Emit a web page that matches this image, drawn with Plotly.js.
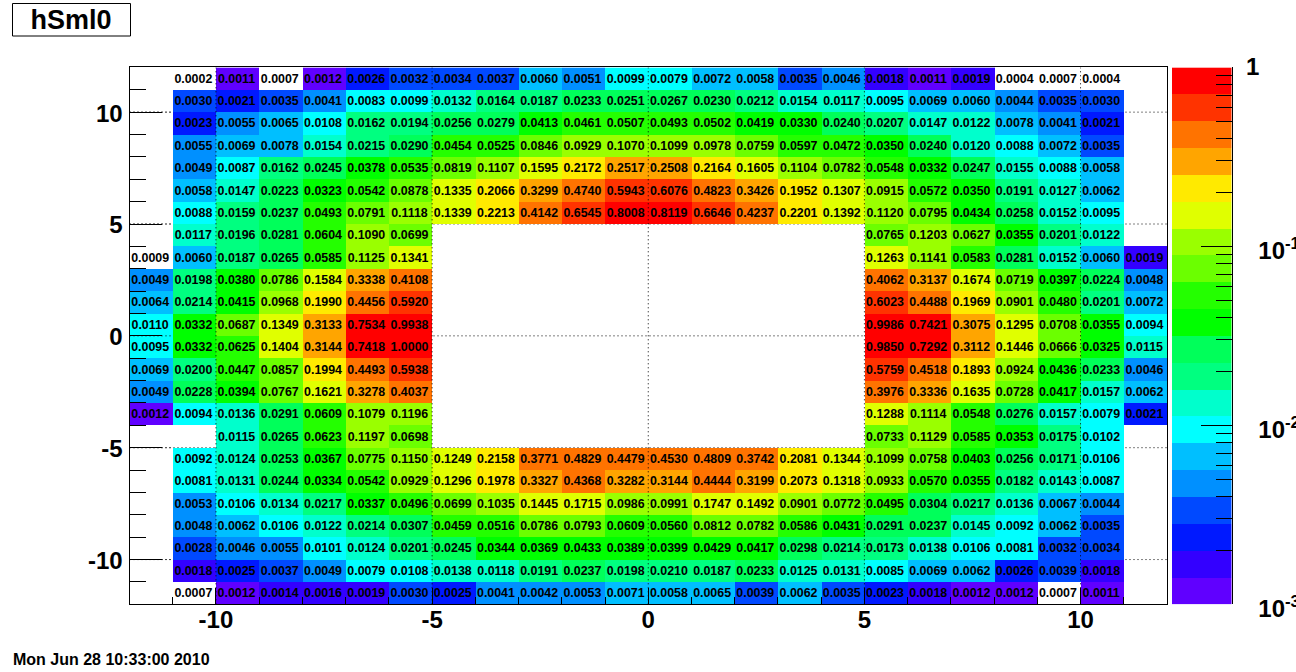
<!DOCTYPE html>
<html>
<head>
<meta charset="utf-8">
<script src="https://cdn.plot.ly/plotly-3.0.1.min.js"></script>
<style>html,body{margin:0;padding:0;background:#fff;overflow:hidden}#c{width:1296px;height:672px}</style>
</head>
<body>
<div id="c"></div>
<script>
const W = 1296, H = 672;
const binCenters = [-11.5,-10.5,-9.5,-8.5,-7.5,-6.5,-5.5,-4.5,-3.5,-2.5,-1.5,-0.5,0.5,1.5,2.5,3.5,4.5,5.5,6.5,7.5,8.5,9.5,10.5,11.5];
const rowCenters = [11.5,10.5,9.5,8.5,7.5,6.5,5.5,4.5,3.5,2.5,1.5,0.5,-0.5,-1.5,-2.5,-3.5,-4.5,-5.5,-6.5,-7.5,-8.5,-9.5,-10.5,-11.5];
const _ = null;
const rowValues = [
[_,0.0002,0.0011,0.0007,0.0012,0.0026,0.0032,0.0034,0.0037,0.0060,0.0051,0.0099,0.0079,0.0072,0.0058,0.0035,0.0046,0.0018,0.0011,0.0019,0.0004,0.0007,0.0004,_],
[_,0.0030,0.0021,0.0035,0.0041,0.0083,0.0099,0.0132,0.0164,0.0187,0.0233,0.0251,0.0267,0.0230,0.0212,0.0154,0.0117,0.0095,0.0069,0.0060,0.0044,0.0035,0.0030,_],
[_,0.0023,0.0055,0.0065,0.0108,0.0162,0.0194,0.0256,0.0279,0.0413,0.0461,0.0507,0.0493,0.0502,0.0419,0.0330,0.0240,0.0207,0.0147,0.0122,0.0078,0.0041,0.0021,_],
[_,0.0055,0.0069,0.0078,0.0154,0.0215,0.0290,0.0454,0.0525,0.0846,0.0929,0.1070,0.1099,0.0978,0.0759,0.0597,0.0472,0.0350,0.0240,0.0120,0.0088,0.0072,0.0035,_],
[_,0.0049,0.0087,0.0162,0.0245,0.0378,0.0535,0.0819,0.1107,0.1595,0.2172,0.2517,0.2508,0.2164,0.1605,0.1104,0.0782,0.0548,0.0332,0.0247,0.0155,0.0088,0.0058,_],
[_,0.0058,0.0147,0.0223,0.0323,0.0542,0.0878,0.1335,0.2066,0.3299,0.4740,0.5943,0.6076,0.4823,0.3426,0.1952,0.1307,0.0915,0.0572,0.0350,0.0191,0.0127,0.0062,_],
[_,0.0088,0.0159,0.0237,0.0493,0.0791,0.1118,0.1339,0.2213,0.4142,0.6545,0.8008,0.8119,0.6646,0.4237,0.2201,0.1392,0.1120,0.0795,0.0434,0.0258,0.0152,0.0095,_],
[_,0.0117,0.0196,0.0281,0.0604,0.1090,0.0699,_,_,_,_,_,_,_,_,_,_,0.0765,0.1203,0.0627,0.0355,0.0201,0.0122,_],
[0.0009,0.0060,0.0187,0.0265,0.0585,0.1125,0.1341,_,_,_,_,_,_,_,_,_,_,0.1263,0.1141,0.0583,0.0281,0.0152,0.0060,0.0019],
[0.0049,0.0198,0.0380,0.0786,0.1584,0.3338,0.4108,_,_,_,_,_,_,_,_,_,_,0.4062,0.3137,0.1674,0.0719,0.0397,0.0224,0.0048],
[0.0064,0.0214,0.0415,0.0968,0.1990,0.4456,0.5920,_,_,_,_,_,_,_,_,_,_,0.6023,0.4488,0.1969,0.0901,0.0480,0.0201,0.0072],
[0.0110,0.0332,0.0687,0.1349,0.3133,0.7534,0.9938,_,_,_,_,_,_,_,_,_,_,0.9986,0.7421,0.3075,0.1295,0.0708,0.0355,0.0094],
[0.0095,0.0332,0.0625,0.1404,0.3144,0.7418,1.0000,_,_,_,_,_,_,_,_,_,_,0.9850,0.7292,0.3112,0.1446,0.0666,0.0325,0.0115],
[0.0069,0.0200,0.0447,0.0857,0.1994,0.4493,0.5938,_,_,_,_,_,_,_,_,_,_,0.5759,0.4518,0.1893,0.0924,0.0436,0.0233,0.0046],
[0.0049,0.0228,0.0394,0.0767,0.1621,0.3278,0.4037,_,_,_,_,_,_,_,_,_,_,0.3976,0.3336,0.1635,0.0728,0.0417,0.0157,0.0062],
[0.0012,0.0094,0.0136,0.0291,0.0609,0.1079,0.1196,_,_,_,_,_,_,_,_,_,_,0.1288,0.1114,0.0548,0.0276,0.0157,0.0079,0.0021],
[_,_,0.0115,0.0265,0.0623,0.1197,0.0698,_,_,_,_,_,_,_,_,_,_,0.0733,0.1129,0.0585,0.0353,0.0175,0.0102,_],
[_,0.0092,0.0124,0.0253,0.0367,0.0775,0.1150,0.1249,0.2158,0.3771,0.4829,0.4479,0.4530,0.4809,0.3742,0.2081,0.1344,0.1099,0.0758,0.0403,0.0256,0.0171,0.0106,_],
[_,0.0081,0.0131,0.0244,0.0334,0.0542,0.0929,0.1296,0.1978,0.3327,0.4368,0.3282,0.3144,0.4444,0.3199,0.2073,0.1318,0.0933,0.0570,0.0355,0.0182,0.0143,0.0087,_],
[_,0.0053,0.0106,0.0134,0.0217,0.0337,0.0496,0.0699,0.1035,0.1445,0.1715,0.0986,0.0991,0.1747,0.1492,0.0901,0.0772,0.0495,0.0304,0.0217,0.0136,0.0067,0.0044,_],
[_,0.0048,0.0062,0.0106,0.0122,0.0214,0.0307,0.0459,0.0516,0.0786,0.0793,0.0609,0.0560,0.0812,0.0782,0.0586,0.0431,0.0291,0.0237,0.0145,0.0092,0.0062,0.0035,_],
[_,0.0028,0.0046,0.0055,0.0101,0.0124,0.0201,0.0245,0.0344,0.0369,0.0433,0.0389,0.0399,0.0429,0.0417,0.0298,0.0214,0.0173,0.0138,0.0106,0.0081,0.0032,0.0034,_],
[_,0.0018,0.0025,0.0037,0.0049,0.0079,0.0108,0.0138,0.0118,0.0191,0.0237,0.0198,0.0210,0.0187,0.0233,0.0125,0.0131,0.0085,0.0069,0.0062,0.0026,0.0039,0.0018,_],
[_,0.0007,0.0012,0.0014,0.0016,0.0019,0.0030,0.0025,0.0041,0.0042,0.0053,0.0071,0.0058,0.0065,0.0039,0.0062,0.0035,0.0023,0.0018,0.0012,0.0012,0.0007,0.0011,_]
];
const bandColors = ['#6000ff','#3300ff','#0019ff','#0049ff','#0090ff','#00bfff','#00ffff','#00ffcc','#00ff80','#00ff5a',
                    '#00ff00','#24ff00','#6bff00','#9aff00','#e0ff00','#ffea00','#ffa500','#ff7300','#ff3300','#ff0000'];
const bandEdges = [-3,-2.85,-2.7,-2.55,-2.4,-2.25,-2.1,-1.95,-1.8,-1.65,-1.5,-1.35,-1.2,-1.05,-0.9,-0.75,-0.6,-0.45,-0.3,-0.15,0];
const xTicks = [-10,-5,0,5,10];
const xTickLabels = ['-10','-5','0','5','10'];
const yTicks = [-10,-5,0,5,10];
const yTickLabels = ['-10','-5','0','5','10'];
const unitTicks = [-11,-9,-8,-7,-6,-4,-3,-2,-1,1,2,3,4,6,7,8,9,11];
const scaleTicks = [-3,-2,-1,0];
const scaleTickLabels = ['10<sup>-3</sup>','10<sup>-2</sup>','10<sup>-1</sup>',' '];
const scaleMinor = [2,3,4,5,6,7,8,9].flatMap(m => [-3,-2,-1].map(d => d + Math.log10(m)));

const FONT = 'Liberation Sans, Arial, sans-serif';
const colorscale = [];
bandColors.forEach((c,i) => { colorscale.push([i/20,c]); colorscale.push([(i+1)/20,c]); });

const z = rowValues.map(r => r.map(v => (v === null || v < 0.001) ? null : Math.log10(v)));
const tx = [], ty = [], tt = [];
rowValues.forEach((r,j) => r.forEach((v,i) => { if (v !== null) { tx.push(binCenters[i]); ty.push(rowCenters[j]); tt.push(v.toFixed(4)); } }));

const px = v => v / W, py = v => 1 - v / H;
const traces = [
  {type:'heatmap', x:binCenters, y:rowCenters, z:z, zmin:-3.004, zmax:-0.004, colorscale:colorscale, showscale:false, hoverongaps:false, xaxis:'x', yaxis:'y'},
  {type:'heatmap', x:[0], y:bandEdges.slice(0,-1).map((e,i)=>(e+bandEdges[i+1])/2), z:bandColors.map((c,i)=>[(bandEdges[i]+bandEdges[i+1])/2]), zmin:-3, zmax:0, colorscale:colorscale, showscale:false, hoverinfo:'skip', xaxis:'x2', yaxis:'y2'},
  {type:'scatter', mode:'text', x:tx, y:ty, text:tt, textposition:'middle center', textfont:{family:FONT, size:12.4, color:'#000', weight:700}, hoverinfo:'skip', showlegend:false, xaxis:'x3', yaxis:'y3', cliponaxis:false}
];
const axisFont = {family:FONT, size:24, color:'#000', weight:700};
const dots = '1px,3px';
const shapes = [
  {type:'rect', xref:'paper', yref:'paper', x0:px(12.5), x1:px(130.5), y0:py(36), y1:py(3.5), line:{color:'#000', width:1}, fillcolor:'rgba(0,0,0,0)'}
];
xTicks.forEach(v => shapes.push({type:'line', xref:'x', yref:'y', x0:v, x1:v, y0:-12, y1:12, layer:'above', line:{color:'#000', width:1, dash:dots}}));
yTicks.forEach(v => {
  shapes.push({type:'line', xref:'x', yref:'y', x0:-12, x1:12, y0:v, y1:v, layer:'below', line:{color:'#000', width:1, dash:dots}});
  shapes.push({type:'line', xref:'x', yref:'y', x0:-12, x1:-11, y0:v, y1:v, layer:'above', line:{color:'#000', width:1, dash:dots}});
});
const DX0 = 129.5, DX1 = 1167, DY0 = 67.4, DY1 = 604.3;
const layout = {
  width:W, height:H, margin:{l:0,r:0,t:0,b:0}, paper_bgcolor:'#fff', plot_bgcolor:'rgba(0,0,0,0)', showlegend:false,
  title:{text:'hSml0', x:px(71), xref:'paper', xanchor:'center', y:py(20), yref:'paper', yanchor:'middle', font:{family:FONT, size:27, color:'#000', weight:700}, automargin:false},
  xaxis:{domain:[px(DX0),px(DX1)], range:[-12,12], anchor:'y', showgrid:false, zeroline:false, showline:true, mirror:true, linecolor:'#000', linewidth:1,
    tickmode:'array', tickvals:xTicks, ticktext:xTickLabels, ticks:'inside', ticklen:16, tickwidth:1, tickcolor:'#000', tickfont:axisFont, ticklabelstandoff:-6,
    minor:{tickmode:'array', tickvals:unitTicks, ticks:'inside', ticklen:7, tickwidth:1, tickcolor:'#000', showgrid:false}},
  yaxis:{domain:[py(DY1),py(DY0)], range:[-12,12], anchor:'x', showgrid:false, zeroline:false, showline:true, mirror:true, linecolor:'#000', linewidth:1,
    tickmode:'array', tickvals:yTicks, ticktext:yTickLabels, ticks:'inside', ticklen:32, tickwidth:1, tickcolor:'#000', tickfont:axisFont, ticklabelstandoff:1, ticklabelshift:1,
    minor:{tickmode:'array', tickvals:unitTicks, ticks:'inside', ticklen:16, tickwidth:1, tickcolor:'#000', showgrid:false}},
  xaxis2:{domain:[px(1172),px(1231.5)], range:[-0.5,0.5], anchor:'y2', showgrid:false, zeroline:false, showline:false, showticklabels:false, ticks:''},
  yaxis2:{domain:[py(DY1),py(DY0)], range:[-3,0], anchor:'x2', side:'right', showgrid:false, zeroline:false, showline:true, linecolor:'#000', linewidth:1,
    tickmode:'array', tickvals:scaleTicks, ticktext:scaleTickLabels, ticks:'inside', ticklen:31, tickwidth:1, tickcolor:'#000', tickfont:axisFont, ticklabelstandoff:21, ticklabelshift:4,
    minor:{tickmode:'array', tickvals:scaleMinor, ticks:'inside', ticklen:16, tickwidth:1, tickcolor:'#000', showgrid:false}},
  xaxis3:{domain:[px(DX0-1),px(DX1-1)], range:[-12,12], anchor:'y3', visible:false},
  yaxis3:{domain:[py(DY1+1),py(DY0+1)], range:[-12,12], anchor:'x3', visible:false},
  shapes:shapes,
  annotations:[
    {xref:'paper', yref:'paper', x:px(1252), y:py(67), xanchor:'center', yanchor:'middle', text:'1', showarrow:false, font:axisFont},
    {xref:'paper', yref:'paper', x:px(12), y:py(659), xanchor:'left', yanchor:'middle', text:'Mon Jun 28 10:33:00 2010', showarrow:false, font:{family:FONT, size:16, color:'#000', weight:700}, xshift:-1}
  ]
};
Plotly.newPlot('c', traces, layout, {displayModeBar:false, staticPlot:true});
</script>
</body>
</html>
